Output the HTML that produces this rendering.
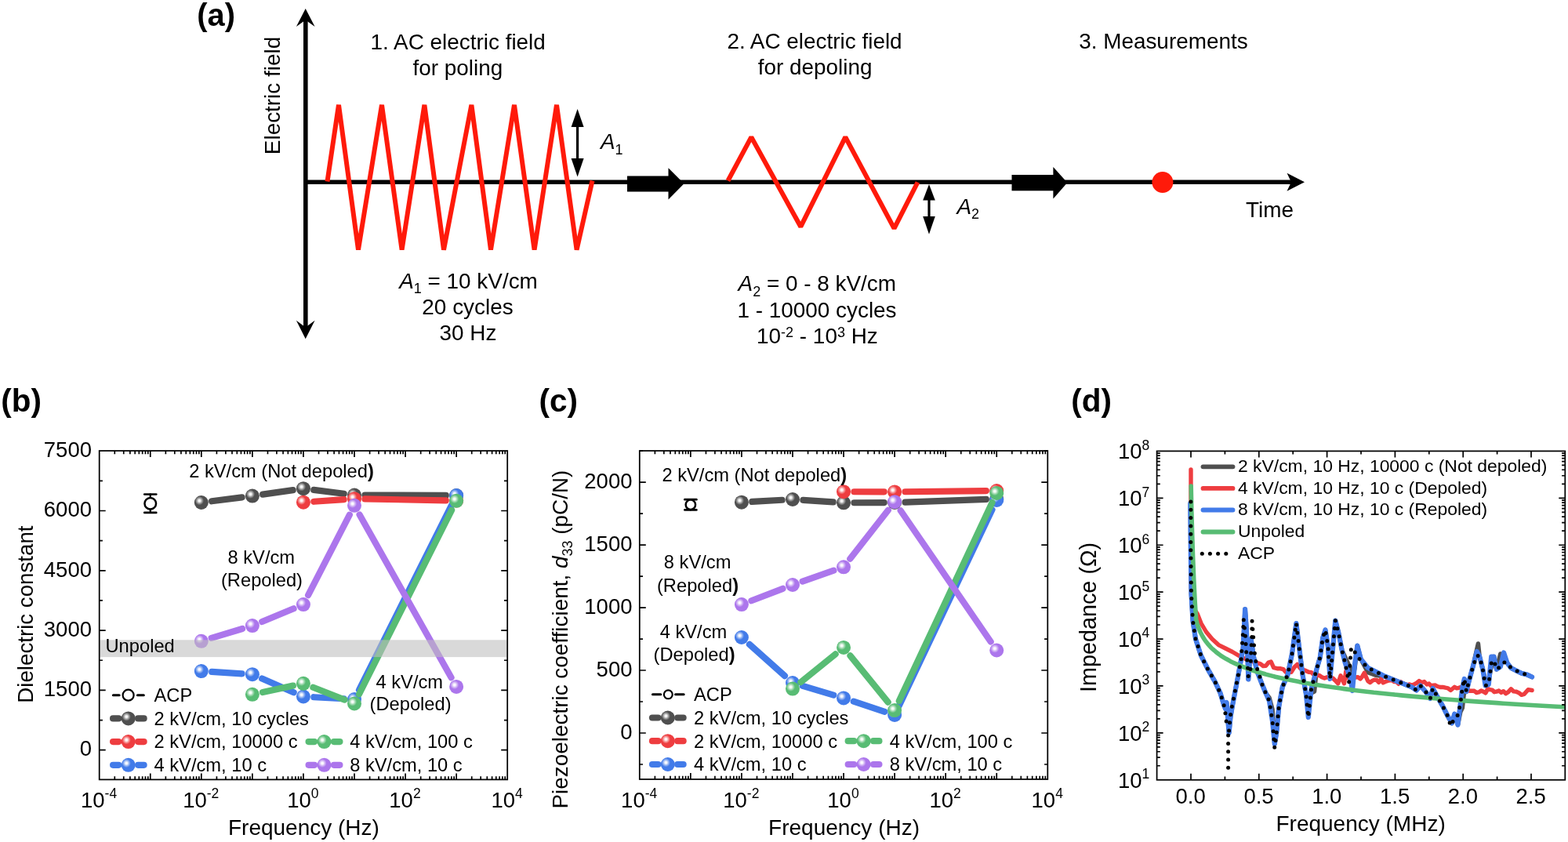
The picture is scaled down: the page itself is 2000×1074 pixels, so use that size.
<!DOCTYPE html><html><head><meta charset="utf-8"><title>Figure</title>
<style>html,body{margin:0;padding:0;background:#fff;}svg{display:block;}text{font-family:'Liberation Sans', Arial, sans-serif;}</style></head><body>
<svg width="2000" height="1074" viewBox="0 0 2000 1074">
<rect width="2000" height="1074" fill="#fff"/>
<text x="251.3" y="32.5" font-size="39.8" font-weight="bold">(a)</text>
<line x1="389.8" y1="24" x2="389.8" y2="420" stroke="#000" stroke-width="5.6" stroke-linecap="butt"/>
<polygon points="389.7,10.9 401.6,34 389.7,25.5 377.9,34" fill="#000"/>
<polygon points="389.7,432.2 401.6,408.8 389.7,417.5 377.9,408.8" fill="#000"/>
<line x1="387" y1="232.3" x2="1652" y2="232.3" stroke="#000" stroke-width="5.4" stroke-linecap="butt"/>
<polygon points="1664,232.3 1641.5,220.8 1647,232.3 1641.5,243.8" fill="#000"/>
<polyline points="417.5,231.5 432,133.8 457,318.6 487,133.8 512.6,318.6 541.4,133.8 566,318.6 601.4,133.8 626,318.6 656,133.8 681.6,318.6 710,133.8 735.6,318.6 755.5,230.5" fill="none" stroke="#ff1a0a" stroke-width="6" stroke-linejoin="bevel" stroke-linecap="butt"/>
<polyline points="928.5,230.5 958.3,174.9 1021.3,289.2 1078.3,174.9 1140.5,291.3 1170.5,232.5" fill="none" stroke="#ff1a0a" stroke-width="6" stroke-linejoin="bevel" stroke-linecap="butt"/>
<line x1="736.6" y1="158" x2="736.6" y2="206" stroke="#000" stroke-width="3.2" stroke-linecap="butt"/>
<polygon points="736.6,139 744.6,162 728.6,162" fill="#000"/>
<polygon points="736.6,225.6 744.6,202 728.6,202" fill="#000"/>
<line x1="1185" y1="252" x2="1185" y2="280" stroke="#000" stroke-width="3.2" stroke-linecap="butt"/>
<polygon points="1185,235 1192.8,255.5 1177.2,255.5" fill="#000"/>
<polygon points="1185,298.8 1192.8,276 1177.2,276" fill="#000"/>
<rect x="800" y="224.5" width="53" height="20" fill="#000"/>
<polygon points="852.5,214.3 872.5,234.3 852.5,254.5" fill="#000"/>
<rect x="1290.5" y="223" width="53.5" height="20.3" fill="#000"/>
<polygon points="1343.4,212.9 1361.4,233 1343.4,253.4" fill="#000"/>
<circle cx="1482.9" cy="232.5" r="13.5" fill="#ff1a0a"/>
<text x="584.2" y="62.5" font-size="27.9" text-anchor="middle">1. AC electric field</text>
<text x="583.8" y="95.6" font-size="27.9" text-anchor="middle">for poling</text>
<text x="1039" y="62.3" font-size="27.9" text-anchor="middle">2. AC electric field</text>
<text x="1039.6" y="95.4" font-size="27.9" text-anchor="middle">for depoling</text>
<text x="1483.9" y="62.4" font-size="27.9" text-anchor="middle">3. Measurements</text>
<text x="1619.6" y="276.6" font-size="27.9" text-anchor="middle">Time</text>
<text transform="translate(357,122) rotate(-90)" text-anchor="middle" font-size="27.9">Electric field</text>
<text x="766" y="190.4" font-size="27.9"><tspan font-style="italic">A</tspan><tspan font-size="18" dy="6.2">1</tspan></text>
<text x="1220.5" y="272.5" font-size="27.9"><tspan font-style="italic">A</tspan><tspan font-size="18" dy="6.2">2</tspan></text>
<text x="597.5" y="367.7" font-size="27.9" text-anchor="middle"><tspan font-style="italic">A</tspan><tspan font-size="18" dy="6.2">1</tspan><tspan dy="-6.2"> = 10 kV/cm</tspan></text>
<text x="596.5" y="400.9" font-size="27.9" text-anchor="middle">20 cycles</text>
<text x="597" y="434.1" font-size="27.9" text-anchor="middle">30 Hz</text>
<text x="1042.3" y="371.4" font-size="27.9" text-anchor="middle"><tspan font-style="italic">A</tspan><tspan font-size="18" dy="6.8">2</tspan><tspan dy="-6.8"> = 0 - 8 kV/cm</tspan></text>
<text x="1042" y="404.6" font-size="27.9" text-anchor="middle">1 - 10000 cycles</text>
<text x="1042.4" y="438" font-size="27.9" text-anchor="middle">10<tspan font-size="18" dy="-8.2">-2</tspan><tspan dy="8.2"> - 10</tspan><tspan font-size="18" dy="-8.2">3</tspan><tspan dy="8.2"> Hz</tspan></text>
<defs><radialGradient id="hl" cx="0.5" cy="0.5" r="0.5"><stop offset="0" stop-color="#fff" stop-opacity="1"/><stop offset="0.25" stop-color="#fff" stop-opacity="0.92"/><stop offset="0.6" stop-color="#fff" stop-opacity="0.45"/><stop offset="1" stop-color="#fff" stop-opacity="0"/></radialGradient></defs>
<line x1="270.11" y1="639.28" x2="308.6" y2="634.32" stroke="#4f4f4f" stroke-width="8.2" stroke-linecap="round"/>
<line x1="335.15" y1="630.68" x2="373.69" y2="625.12" stroke="#4f4f4f" stroke-width="8.2" stroke-linecap="round"/>
<line x1="400.24" y1="624.9" x2="438.72" y2="629.8" stroke="#4f4f4f" stroke-width="8.2" stroke-linecap="round"/>
<line x1="465.41" y1="631.55" x2="568.74" y2="631.95" stroke="#4f4f4f" stroke-width="8.2" stroke-linecap="round"/>
<circle cx="256.82" cy="641" r="9" fill="#4f4f4f"/>
<circle cx="254.42" cy="638.7" r="5.6" fill="url(#hl)"/>
<circle cx="321.89" cy="632.6" r="9" fill="#4f4f4f"/>
<circle cx="319.49" cy="630.3" r="5.6" fill="url(#hl)"/>
<circle cx="386.95" cy="623.2" r="9" fill="#4f4f4f"/>
<circle cx="384.55" cy="620.9" r="5.6" fill="url(#hl)"/>
<circle cx="452.01" cy="631.5" r="9" fill="#4f4f4f"/>
<circle cx="449.61" cy="629.2" r="5.6" fill="url(#hl)"/>
<circle cx="582.14" cy="632" r="9" fill="#4f4f4f"/>
<circle cx="579.74" cy="629.7" r="5.6" fill="url(#hl)"/>
<line x1="400.32" y1="639.78" x2="438.64" y2="637.12" stroke="#ee3d40" stroke-width="8.2" stroke-linecap="round"/>
<line x1="465.41" y1="636.45" x2="568.74" y2="638.35" stroke="#ee3d40" stroke-width="8.2" stroke-linecap="round"/>
<circle cx="386.95" cy="640.7" r="9" fill="#ee3d40"/>
<circle cx="384.55" cy="638.4" r="5.6" fill="url(#hl)"/>
<circle cx="452.01" cy="636.2" r="9" fill="#ee3d40"/>
<circle cx="449.61" cy="633.9" r="5.6" fill="url(#hl)"/>
<circle cx="582.14" cy="638.6" r="9" fill="#ee3d40"/>
<circle cx="579.74" cy="636.3" r="5.6" fill="url(#hl)"/>
<line x1="270.2" y1="856.94" x2="308.51" y2="859.36" stroke="#427be9" stroke-width="8.2" stroke-linecap="round"/>
<line x1="334.18" y1="865.54" x2="374.66" y2="883.16" stroke="#427be9" stroke-width="8.2" stroke-linecap="round"/>
<line x1="400.33" y1="889.22" x2="438.63" y2="891.28" stroke="#427be9" stroke-width="8.2" stroke-linecap="round"/>
<line x1="458.01" y1="880.02" x2="576.14" y2="643.98" stroke="#427be9" stroke-width="8.2" stroke-linecap="round"/>
<circle cx="256.82" cy="856.1" r="9" fill="#427be9"/>
<circle cx="254.42" cy="853.8" r="5.6" fill="url(#hl)"/>
<circle cx="321.89" cy="860.2" r="9" fill="#427be9"/>
<circle cx="319.49" cy="857.9" r="5.6" fill="url(#hl)"/>
<circle cx="386.95" cy="888.5" r="9" fill="#427be9"/>
<circle cx="384.55" cy="886.2" r="5.6" fill="url(#hl)"/>
<circle cx="452.01" cy="892" r="9" fill="#427be9"/>
<circle cx="449.61" cy="889.7" r="5.6" fill="url(#hl)"/>
<circle cx="582.14" cy="632" r="9" fill="#427be9"/>
<circle cx="579.74" cy="629.7" r="5.6" fill="url(#hl)"/>
<line x1="334.99" y1="882.98" x2="373.85" y2="874.62" stroke="#58bc74" stroke-width="8.2" stroke-linecap="round"/>
<line x1="399.41" y1="876.72" x2="439.55" y2="892.58" stroke="#58bc74" stroke-width="8.2" stroke-linecap="round"/>
<line x1="458.03" y1="885.53" x2="576.12" y2="650.77" stroke="#58bc74" stroke-width="8.2" stroke-linecap="round"/>
<circle cx="321.89" cy="885.8" r="9" fill="#58bc74"/>
<circle cx="319.49" cy="883.5" r="5.6" fill="url(#hl)"/>
<circle cx="386.95" cy="871.8" r="9" fill="#58bc74"/>
<circle cx="384.55" cy="869.5" r="5.6" fill="url(#hl)"/>
<circle cx="452.01" cy="897.5" r="9" fill="#58bc74"/>
<circle cx="449.61" cy="895.2" r="5.6" fill="url(#hl)"/>
<circle cx="582.14" cy="638.8" r="9" fill="#58bc74"/>
<circle cx="579.74" cy="636.5" r="5.6" fill="url(#hl)"/>
<line x1="269.65" y1="813.92" x2="309.06" y2="801.98" stroke="#ac76ec" stroke-width="8.2" stroke-linecap="round"/>
<line x1="334.26" y1="792.96" x2="374.57" y2="776.24" stroke="#ac76ec" stroke-width="8.2" stroke-linecap="round"/>
<line x1="393.09" y1="759.19" x2="445.88" y2="656.71" stroke="#ac76ec" stroke-width="8.2" stroke-linecap="round"/>
<line x1="458.59" y1="656.48" x2="575.56" y2="864.22" stroke="#ac76ec" stroke-width="8.2" stroke-linecap="round"/>
<circle cx="256.82" cy="817.8" r="9" fill="#ac76ec"/>
<circle cx="254.42" cy="815.5" r="5.6" fill="url(#hl)"/>
<circle cx="321.89" cy="798.1" r="9" fill="#ac76ec"/>
<circle cx="319.49" cy="795.8" r="5.6" fill="url(#hl)"/>
<circle cx="386.95" cy="771.1" r="9" fill="#ac76ec"/>
<circle cx="384.55" cy="768.8" r="5.6" fill="url(#hl)"/>
<circle cx="452.01" cy="644.8" r="9" fill="#ac76ec"/>
<circle cx="449.61" cy="642.5" r="5.6" fill="url(#hl)"/>
<circle cx="582.14" cy="875.9" r="9" fill="#ac76ec"/>
<circle cx="579.74" cy="873.6" r="5.6" fill="url(#hl)"/>
<rect x="127.7" y="816.3" width="518.5" height="21.8" fill="#bfbfbf" fill-opacity="0.59"/>
<g stroke="#000" stroke-width="2.3" fill="none" stroke-linecap="round"><line x1="191.76" y1="630.5" x2="191.76" y2="653.9"/><line x1="184.26" y1="630.5" x2="199.26" y2="630.5" stroke-width="2.7"/><line x1="184.26" y1="653.9" x2="199.26" y2="653.9" stroke-width="2.7"/><circle cx="191.76" cy="642.2" r="7.3" fill="#fff" stroke-width="2.5"/></g>
<path d="M146.29 575L146.29 579.2M146.29 994.4L146.29 990.2M157.74 575L157.74 579.2M157.74 994.4L157.74 990.2M165.87 575L165.87 579.2M165.87 994.4L165.87 990.2M172.18 575L172.18 579.2M172.18 994.4L172.18 990.2M177.33 575L177.33 579.2M177.33 994.4L177.33 990.2M181.68 575L181.68 579.2M181.68 994.4L181.68 990.2M185.46 575L185.46 579.2M185.46 994.4L185.46 990.2M188.79 575L188.79 579.2M188.79 994.4L188.79 990.2M191.76 575L191.76 583M191.76 994.4L191.76 986.4M211.35 575L211.35 579.2M211.35 994.4L211.35 990.2M222.81 575L222.81 579.2M222.81 994.4L222.81 990.2M230.93 575L230.93 579.2M230.93 994.4L230.93 990.2M237.24 575L237.24 579.2M237.24 994.4L237.24 990.2M242.39 575L242.39 579.2M242.39 994.4L242.39 990.2M246.75 575L246.75 579.2M246.75 994.4L246.75 990.2M250.52 575L250.52 579.2M250.52 994.4L250.52 990.2M253.85 575L253.85 579.2M253.85 994.4L253.85 990.2M256.82 575L256.82 583M256.82 994.4L256.82 986.4M276.41 575L276.41 579.2M276.41 994.4L276.41 990.2M287.87 575L287.87 579.2M287.87 994.4L287.87 990.2M296 575L296 579.2M296 994.4L296 990.2M302.3 575L302.3 579.2M302.3 994.4L302.3 990.2M307.45 575L307.45 579.2M307.45 994.4L307.45 990.2M311.81 575L311.81 579.2M311.81 994.4L311.81 990.2M315.58 575L315.58 579.2M315.58 994.4L315.58 990.2M318.91 575L318.91 579.2M318.91 994.4L318.91 990.2M321.89 575L321.89 583M321.89 994.4L321.89 986.4M341.47 575L341.47 579.2M341.47 994.4L341.47 990.2M352.93 575L352.93 579.2M352.93 994.4L352.93 990.2M361.06 575L361.06 579.2M361.06 994.4L361.06 990.2M367.36 575L367.36 579.2M367.36 994.4L367.36 990.2M372.52 575L372.52 579.2M372.52 994.4L372.52 990.2M376.87 575L376.87 579.2M376.87 994.4L376.87 990.2M380.64 575L380.64 579.2M380.64 994.4L380.64 990.2M383.97 575L383.97 579.2M383.97 994.4L383.97 990.2M386.95 575L386.95 583M386.95 994.4L386.95 986.4M406.54 575L406.54 579.2M406.54 994.4L406.54 990.2M417.99 575L417.99 579.2M417.99 994.4L417.99 990.2M426.12 575L426.12 579.2M426.12 994.4L426.12 990.2M432.43 575L432.43 579.2M432.43 994.4L432.43 990.2M437.58 575L437.58 579.2M437.58 994.4L437.58 990.2M441.93 575L441.93 579.2M441.93 994.4L441.93 990.2M445.71 575L445.71 579.2M445.71 994.4L445.71 990.2M449.04 575L449.04 579.2M449.04 994.4L449.04 990.2M452.01 575L452.01 583M452.01 994.4L452.01 986.4M471.6 575L471.6 579.2M471.6 994.4L471.6 990.2M483.06 575L483.06 579.2M483.06 994.4L483.06 990.2M491.18 575L491.18 579.2M491.18 994.4L491.18 990.2M497.49 575L497.49 579.2M497.49 994.4L497.49 990.2M502.64 575L502.64 579.2M502.64 994.4L502.64 990.2M507 575L507 579.2M507 994.4L507 990.2M510.77 575L510.77 579.2M510.77 994.4L510.77 990.2M514.1 575L514.1 579.2M514.1 994.4L514.1 990.2M517.08 575L517.08 583M517.08 994.4L517.08 986.4M536.66 575L536.66 579.2M536.66 994.4L536.66 990.2M548.12 575L548.12 579.2M548.12 994.4L548.12 990.2M556.25 575L556.25 579.2M556.25 994.4L556.25 990.2M562.55 575L562.55 579.2M562.55 994.4L562.55 990.2M567.7 575L567.7 579.2M567.7 994.4L567.7 990.2M572.06 575L572.06 579.2M572.06 994.4L572.06 990.2M575.83 575L575.83 579.2M575.83 994.4L575.83 990.2M579.16 575L579.16 579.2M579.16 994.4L579.16 990.2M582.14 575L582.14 583M582.14 994.4L582.14 986.4M601.72 575L601.72 579.2M601.72 994.4L601.72 990.2M613.18 575L613.18 579.2M613.18 994.4L613.18 990.2M621.31 575L621.31 579.2M621.31 994.4L621.31 990.2M627.61 575L627.61 579.2M627.61 994.4L627.61 990.2M632.77 575L632.77 579.2M632.77 994.4L632.77 990.2M637.12 575L637.12 579.2M637.12 994.4L637.12 990.2M640.89 575L640.89 579.2M640.89 994.4L640.89 990.2M644.22 575L644.22 579.2M644.22 994.4L644.22 990.2M126.7 956.7L134.7 956.7M647.2 956.7L639.2 956.7M126.7 880.4L134.7 880.4M647.2 880.4L639.2 880.4M126.7 804.1L134.7 804.1M647.2 804.1L639.2 804.1M126.7 727.8L134.7 727.8M647.2 727.8L639.2 727.8M126.7 651.5L134.7 651.5M647.2 651.5L639.2 651.5M126.7 918.55L130.9 918.55M647.2 918.55L643 918.55M126.7 842.25L130.9 842.25M647.2 842.25L643 842.25M126.7 765.95L130.9 765.95M647.2 765.95L643 765.95M126.7 689.65L130.9 689.65M647.2 689.65L643 689.65M126.7 613.35L130.9 613.35M647.2 613.35L643 613.35" stroke="#000" stroke-width="1.7" fill="none"/>
<rect x="126.7" y="575" width="520.5" height="419.4" fill="none" stroke="#000" stroke-width="1.75"/>
<text x="117" y="964.4" font-size="27.5" text-anchor="end">0</text>
<text x="117" y="888.1" font-size="27.5" text-anchor="end">1500</text>
<text x="117" y="811.8" font-size="27.5" text-anchor="end">3000</text>
<text x="117" y="735.5" font-size="27.5" text-anchor="end">4500</text>
<text x="117" y="659.2" font-size="27.5" text-anchor="end">6000</text>
<text x="117" y="582.9" font-size="27.5" text-anchor="end">7500</text>
<text x="126.1" y="1029.6" font-size="27.5" text-anchor="middle">10<tspan font-size="17.5" dy="-12">-4</tspan></text>
<text x="256.22" y="1029.6" font-size="27.5" text-anchor="middle">10<tspan font-size="17.5" dy="-12">-2</tspan></text>
<text x="386.35" y="1029.6" font-size="27.5" text-anchor="middle">10<tspan font-size="17.5" dy="-12">0</tspan></text>
<text x="516.48" y="1029.6" font-size="27.5" text-anchor="middle">10<tspan font-size="17.5" dy="-12">2</tspan></text>
<text x="646.6" y="1029.6" font-size="27.5" text-anchor="middle">10<tspan font-size="17.5" dy="-12">4</tspan></text>
<text x="387.45" y="1065.1" font-size="28" text-anchor="middle">Frequency (Hz)</text>
<text transform="translate(42.4,783.6) rotate(-90)" text-anchor="middle" font-size="27.7">Dielectric constant</text>
<text x="359" y="608.6" font-size="23.7" text-anchor="middle">2 kV/cm (Not depoled<tspan font-weight="bold">)</tspan></text>
<text x="333.3" y="719.3" font-size="23.7" text-anchor="middle">8 kV/cm</text>
<text x="334" y="748.2" font-size="23.7" text-anchor="middle">(Repoled)</text>
<text x="134.5" y="831.9" font-size="23.7">Unpoled</text>
<text x="522.3" y="877.7" font-size="23.7" text-anchor="middle">4 kV/cm</text>
<text x="523.6" y="905.5" font-size="23.7" text-anchor="middle">(Depoled)</text>
<g stroke="#000" stroke-width="3.1" stroke-linecap="round"><line x1="144.4" y1="886.7" x2="152.1" y2="886.7"/><line x1="175.4" y1="886.7" x2="183.3" y2="886.7"/></g>
<circle cx="163.6" cy="886.7" r="7" fill="#fff" stroke="#000" stroke-width="2.2"/>
<text x="196.5" y="895" font-size="23.7">ACP</text>
<line x1="144.1" y1="916.4" x2="151.3" y2="916.4" stroke="#4f4f4f" stroke-width="8.2" stroke-linecap="round"/>
<line x1="176.1" y1="916.4" x2="183.6" y2="916.4" stroke="#4f4f4f" stroke-width="8.2" stroke-linecap="round"/>
<circle cx="163.7" cy="916.4" r="9" fill="#4f4f4f"/>
<circle cx="161.3" cy="914.1" r="5.6" fill="url(#hl)"/>
<text x="196.5" y="924.7" font-size="23.7">2 kV/cm, 10 cycles</text>
<line x1="144.1" y1="946.1" x2="151.3" y2="946.1" stroke="#ee3d40" stroke-width="8.2" stroke-linecap="round"/>
<line x1="176.1" y1="946.1" x2="183.6" y2="946.1" stroke="#ee3d40" stroke-width="8.2" stroke-linecap="round"/>
<circle cx="163.7" cy="946.1" r="9" fill="#ee3d40"/>
<circle cx="161.3" cy="943.8" r="5.6" fill="url(#hl)"/>
<text x="196.5" y="954.4" font-size="23.7">2 kV/cm, 10000 c</text>
<line x1="144.1" y1="975.8" x2="151.3" y2="975.8" stroke="#427be9" stroke-width="8.2" stroke-linecap="round"/>
<line x1="176.1" y1="975.8" x2="183.6" y2="975.8" stroke="#427be9" stroke-width="8.2" stroke-linecap="round"/>
<circle cx="163.7" cy="975.8" r="9" fill="#427be9"/>
<circle cx="161.3" cy="973.5" r="5.6" fill="url(#hl)"/>
<text x="196.5" y="984.1" font-size="23.7">4 kV/cm, 10 c</text>
<line x1="393.6" y1="946.1" x2="401.1" y2="946.1" stroke="#58bc74" stroke-width="8.2" stroke-linecap="round"/>
<line x1="425.9" y1="946.1" x2="433.4" y2="946.1" stroke="#58bc74" stroke-width="8.2" stroke-linecap="round"/>
<circle cx="413.5" cy="946.1" r="9" fill="#58bc74"/>
<circle cx="411.1" cy="943.8" r="5.6" fill="url(#hl)"/>
<text x="446.2" y="954.4" font-size="23.7">4 kV/cm, 100 c</text>
<line x1="393.6" y1="975.8" x2="401.1" y2="975.8" stroke="#ac76ec" stroke-width="8.2" stroke-linecap="round"/>
<line x1="425.9" y1="975.8" x2="433.4" y2="975.8" stroke="#ac76ec" stroke-width="8.2" stroke-linecap="round"/>
<circle cx="413.5" cy="975.8" r="9" fill="#ac76ec"/>
<circle cx="411.1" cy="973.5" r="5.6" fill="url(#hl)"/>
<text x="446.2" y="984.1" font-size="23.7">8 kV/cm, 10 c</text>
<text x="1.2" y="524.6" font-size="40.5" font-weight="bold">(b)</text>
<line x1="959.3" y1="639.94" x2="997.61" y2="637.76" stroke="#4f4f4f" stroke-width="8.2" stroke-linecap="round"/>
<line x1="1024.36" y1="637.88" x2="1062.68" y2="640.42" stroke="#4f4f4f" stroke-width="8.2" stroke-linecap="round"/>
<line x1="1089.45" y1="641.24" x2="1127.71" y2="641.06" stroke="#4f4f4f" stroke-width="8.2" stroke-linecap="round"/>
<line x1="1154.5" y1="640.54" x2="1257.85" y2="636.96" stroke="#4f4f4f" stroke-width="8.2" stroke-linecap="round"/>
<circle cx="945.92" cy="640.7" r="9" fill="#4f4f4f"/>
<circle cx="943.52" cy="638.4" r="5.6" fill="url(#hl)"/>
<circle cx="1010.99" cy="637" r="9" fill="#4f4f4f"/>
<circle cx="1008.59" cy="634.7" r="5.6" fill="url(#hl)"/>
<circle cx="1076.05" cy="641.3" r="9" fill="#4f4f4f"/>
<circle cx="1073.65" cy="639" r="5.6" fill="url(#hl)"/>
<circle cx="1141.11" cy="641" r="9" fill="#4f4f4f"/>
<circle cx="1138.71" cy="638.7" r="5.6" fill="url(#hl)"/>
<circle cx="1271.24" cy="636.5" r="9" fill="#4f4f4f"/>
<circle cx="1268.84" cy="634.2" r="5.6" fill="url(#hl)"/>
<line x1="1089.45" y1="627.24" x2="1127.71" y2="627.36" stroke="#ee3d40" stroke-width="8.2" stroke-linecap="round"/>
<line x1="1154.51" y1="627.26" x2="1257.84" y2="626.14" stroke="#ee3d40" stroke-width="8.2" stroke-linecap="round"/>
<circle cx="1076.05" cy="627.2" r="9" fill="#ee3d40"/>
<circle cx="1073.65" cy="624.9" r="5.6" fill="url(#hl)"/>
<circle cx="1141.11" cy="627.4" r="9" fill="#ee3d40"/>
<circle cx="1138.71" cy="625.1" r="5.6" fill="url(#hl)"/>
<circle cx="1271.24" cy="626" r="9" fill="#ee3d40"/>
<circle cx="1268.84" cy="623.7" r="5.6" fill="url(#hl)"/>
<line x1="955.93" y1="821.92" x2="1000.98" y2="862.08" stroke="#427be9" stroke-width="8.2" stroke-linecap="round"/>
<line x1="1023.83" y1="874.83" x2="1063.21" y2="886.57" stroke="#427be9" stroke-width="8.2" stroke-linecap="round"/>
<line x1="1088.77" y1="894.62" x2="1128.4" y2="907.78" stroke="#427be9" stroke-width="8.2" stroke-linecap="round"/>
<line x1="1146.86" y1="899.9" x2="1265.49" y2="650.1" stroke="#427be9" stroke-width="8.2" stroke-linecap="round"/>
<circle cx="945.92" cy="813" r="9" fill="#427be9"/>
<circle cx="943.52" cy="810.7" r="5.6" fill="url(#hl)"/>
<circle cx="1010.99" cy="871" r="9" fill="#427be9"/>
<circle cx="1008.59" cy="868.7" r="5.6" fill="url(#hl)"/>
<circle cx="1076.05" cy="890.4" r="9" fill="#427be9"/>
<circle cx="1073.65" cy="888.1" r="5.6" fill="url(#hl)"/>
<circle cx="1141.11" cy="912" r="9" fill="#427be9"/>
<circle cx="1138.71" cy="909.7" r="5.6" fill="url(#hl)"/>
<circle cx="1271.24" cy="638" r="9" fill="#427be9"/>
<circle cx="1268.84" cy="635.7" r="5.6" fill="url(#hl)"/>
<line x1="1021.4" y1="870.17" x2="1065.64" y2="834.33" stroke="#58bc74" stroke-width="8.2" stroke-linecap="round"/>
<line x1="1084.49" y1="836.31" x2="1132.67" y2="895.69" stroke="#58bc74" stroke-width="8.2" stroke-linecap="round"/>
<line x1="1146.81" y1="893.97" x2="1265.54" y2="641.03" stroke="#58bc74" stroke-width="8.2" stroke-linecap="round"/>
<circle cx="1010.99" cy="878.6" r="9" fill="#58bc74"/>
<circle cx="1008.59" cy="876.3" r="5.6" fill="url(#hl)"/>
<circle cx="1076.05" cy="825.9" r="9" fill="#58bc74"/>
<circle cx="1073.65" cy="823.6" r="5.6" fill="url(#hl)"/>
<circle cx="1141.11" cy="906.1" r="9" fill="#58bc74"/>
<circle cx="1138.71" cy="903.8" r="5.6" fill="url(#hl)"/>
<circle cx="1271.24" cy="628.9" r="9" fill="#58bc74"/>
<circle cx="1268.84" cy="626.6" r="5.6" fill="url(#hl)"/>
<line x1="958.43" y1="766.28" x2="998.49" y2="750.82" stroke="#ac76ec" stroke-width="8.2" stroke-linecap="round"/>
<line x1="1023.64" y1="741.59" x2="1063.4" y2="727.71" stroke="#ac76ec" stroke-width="8.2" stroke-linecap="round"/>
<line x1="1084.31" y1="712.75" x2="1132.85" y2="650.75" stroke="#ac76ec" stroke-width="8.2" stroke-linecap="round"/>
<line x1="1148.7" y1="651.24" x2="1263.65" y2="818.46" stroke="#ac76ec" stroke-width="8.2" stroke-linecap="round"/>
<circle cx="945.92" cy="771.1" r="9" fill="#ac76ec"/>
<circle cx="943.52" cy="768.8" r="5.6" fill="url(#hl)"/>
<circle cx="1010.99" cy="746" r="9" fill="#ac76ec"/>
<circle cx="1008.59" cy="743.7" r="5.6" fill="url(#hl)"/>
<circle cx="1076.05" cy="723.3" r="9" fill="#ac76ec"/>
<circle cx="1073.65" cy="721" r="5.6" fill="url(#hl)"/>
<circle cx="1141.11" cy="640.2" r="9" fill="#ac76ec"/>
<circle cx="1138.71" cy="637.9" r="5.6" fill="url(#hl)"/>
<circle cx="1271.24" cy="829.5" r="9" fill="#ac76ec"/>
<circle cx="1268.84" cy="827.2" r="5.6" fill="url(#hl)"/>
<g stroke="#000" stroke-width="2.3" fill="none" stroke-linecap="round"><line x1="880.86" y1="637.2" x2="880.86" y2="650.4"/><line x1="873.36" y1="637.2" x2="888.36" y2="637.2" stroke-width="2.7"/><line x1="873.36" y1="650.4" x2="888.36" y2="650.4" stroke-width="2.7"/><circle cx="880.86" cy="643.8" r="6.2" fill="#fff" stroke-width="2.5"/></g>
<path d="M835.39 575L835.39 579.2M835.39 994L835.39 989.8M846.84 575L846.84 579.2M846.84 994L846.84 989.8M854.97 575L854.97 579.2M854.97 994L854.97 989.8M861.28 575L861.28 579.2M861.28 994L861.28 989.8M866.43 575L866.43 579.2M866.43 994L866.43 989.8M870.78 575L870.78 579.2M870.78 994L870.78 989.8M874.56 575L874.56 579.2M874.56 994L874.56 989.8M877.89 575L877.89 579.2M877.89 994L877.89 989.8M880.86 575L880.86 583M880.86 994L880.86 986M900.45 575L900.45 579.2M900.45 994L900.45 989.8M911.91 575L911.91 579.2M911.91 994L911.91 989.8M920.03 575L920.03 579.2M920.03 994L920.03 989.8M926.34 575L926.34 579.2M926.34 994L926.34 989.8M931.49 575L931.49 579.2M931.49 994L931.49 989.8M935.85 575L935.85 579.2M935.85 994L935.85 989.8M939.62 575L939.62 579.2M939.62 994L939.62 989.8M942.95 575L942.95 579.2M942.95 994L942.95 989.8M945.92 575L945.92 583M945.92 994L945.92 986M965.51 575L965.51 579.2M965.51 994L965.51 989.8M976.97 575L976.97 579.2M976.97 994L976.97 989.8M985.1 575L985.1 579.2M985.1 994L985.1 989.8M991.4 575L991.4 579.2M991.4 994L991.4 989.8M996.55 575L996.55 579.2M996.55 994L996.55 989.8M1000.91 575L1000.91 579.2M1000.91 994L1000.91 989.8M1004.68 575L1004.68 579.2M1004.68 994L1004.68 989.8M1008.01 575L1008.01 579.2M1008.01 994L1008.01 989.8M1010.99 575L1010.99 583M1010.99 994L1010.99 986M1030.57 575L1030.57 579.2M1030.57 994L1030.57 989.8M1042.03 575L1042.03 579.2M1042.03 994L1042.03 989.8M1050.16 575L1050.16 579.2M1050.16 994L1050.16 989.8M1056.46 575L1056.46 579.2M1056.46 994L1056.46 989.8M1061.62 575L1061.62 579.2M1061.62 994L1061.62 989.8M1065.97 575L1065.97 579.2M1065.97 994L1065.97 989.8M1069.74 575L1069.74 579.2M1069.74 994L1069.74 989.8M1073.07 575L1073.07 579.2M1073.07 994L1073.07 989.8M1076.05 575L1076.05 583M1076.05 994L1076.05 986M1095.64 575L1095.64 579.2M1095.64 994L1095.64 989.8M1107.09 575L1107.09 579.2M1107.09 994L1107.09 989.8M1115.22 575L1115.22 579.2M1115.22 994L1115.22 989.8M1121.53 575L1121.53 579.2M1121.53 994L1121.53 989.8M1126.68 575L1126.68 579.2M1126.68 994L1126.68 989.8M1131.03 575L1131.03 579.2M1131.03 994L1131.03 989.8M1134.81 575L1134.81 579.2M1134.81 994L1134.81 989.8M1138.14 575L1138.14 579.2M1138.14 994L1138.14 989.8M1141.11 575L1141.11 583M1141.11 994L1141.11 986M1160.7 575L1160.7 579.2M1160.7 994L1160.7 989.8M1172.16 575L1172.16 579.2M1172.16 994L1172.16 989.8M1180.28 575L1180.28 579.2M1180.28 994L1180.28 989.8M1186.59 575L1186.59 579.2M1186.59 994L1186.59 989.8M1191.74 575L1191.74 579.2M1191.74 994L1191.74 989.8M1196.1 575L1196.1 579.2M1196.1 994L1196.1 989.8M1199.87 575L1199.87 579.2M1199.87 994L1199.87 989.8M1203.2 575L1203.2 579.2M1203.2 994L1203.2 989.8M1206.17 575L1206.17 583M1206.17 994L1206.17 986M1225.76 575L1225.76 579.2M1225.76 994L1225.76 989.8M1237.22 575L1237.22 579.2M1237.22 994L1237.22 989.8M1245.35 575L1245.35 579.2M1245.35 994L1245.35 989.8M1251.65 575L1251.65 579.2M1251.65 994L1251.65 989.8M1256.8 575L1256.8 579.2M1256.8 994L1256.8 989.8M1261.16 575L1261.16 579.2M1261.16 994L1261.16 989.8M1264.93 575L1264.93 579.2M1264.93 994L1264.93 989.8M1268.26 575L1268.26 579.2M1268.26 994L1268.26 989.8M1271.24 575L1271.24 583M1271.24 994L1271.24 986M1290.82 575L1290.82 579.2M1290.82 994L1290.82 989.8M1302.28 575L1302.28 579.2M1302.28 994L1302.28 989.8M1310.41 575L1310.41 579.2M1310.41 994L1310.41 989.8M1316.71 575L1316.71 579.2M1316.71 994L1316.71 989.8M1321.87 575L1321.87 579.2M1321.87 994L1321.87 989.8M1326.22 575L1326.22 579.2M1326.22 994L1326.22 989.8M1329.99 575L1329.99 579.2M1329.99 994L1329.99 989.8M1333.32 575L1333.32 579.2M1333.32 994L1333.32 989.8M815.8 935L823.8 935M1336.3 935L1328.3 935M815.8 855.02L823.8 855.02M1336.3 855.02L1328.3 855.02M815.8 775.05L823.8 775.05M1336.3 775.05L1328.3 775.05M815.8 695.08L823.8 695.08M1336.3 695.08L1328.3 695.08M815.8 615.1L823.8 615.1M1336.3 615.1L1328.3 615.1M815.8 974.99L820 974.99M1336.3 974.99L1332.1 974.99M815.8 895.01L820 895.01M1336.3 895.01L1332.1 895.01M815.8 815.04L820 815.04M1336.3 815.04L1332.1 815.04M815.8 735.06L820 735.06M1336.3 735.06L1332.1 735.06M815.8 655.09L820 655.09M1336.3 655.09L1332.1 655.09M815.8 575.11L820 575.11M1336.3 575.11L1332.1 575.11" stroke="#000" stroke-width="1.7" fill="none"/>
<rect x="815.8" y="575" width="520.5" height="419" fill="none" stroke="#000" stroke-width="1.75"/>
<text x="806.5" y="942.9" font-size="27.5" text-anchor="end">0</text>
<text x="806.5" y="862.92" font-size="27.5" text-anchor="end">500</text>
<text x="806.5" y="782.95" font-size="27.5" text-anchor="end">1000</text>
<text x="806.5" y="702.98" font-size="27.5" text-anchor="end">1500</text>
<text x="806.5" y="623" font-size="27.5" text-anchor="end">2000</text>
<text x="815.2" y="1029.6" font-size="27.5" text-anchor="middle">10<tspan font-size="17.5" dy="-12">-4</tspan></text>
<text x="945.32" y="1029.6" font-size="27.5" text-anchor="middle">10<tspan font-size="17.5" dy="-12">-2</tspan></text>
<text x="1075.45" y="1029.6" font-size="27.5" text-anchor="middle">10<tspan font-size="17.5" dy="-12">0</tspan></text>
<text x="1205.58" y="1029.6" font-size="27.5" text-anchor="middle">10<tspan font-size="17.5" dy="-12">2</tspan></text>
<text x="1335.7" y="1029.6" font-size="27.5" text-anchor="middle">10<tspan font-size="17.5" dy="-12">4</tspan></text>
<text x="1076.55" y="1065.1" font-size="28" text-anchor="middle">Frequency (Hz)</text>
<text transform="translate(724.3,815.6) rotate(-90)" text-anchor="middle" font-size="27.9">Piezoelectric coefficient, <tspan font-style="italic">d</tspan><tspan font-size="18" dy="6">33</tspan><tspan dy="-6"> (pC/N)</tspan></text>
<text x="962.3" y="614" font-size="23.7" text-anchor="middle">2 kV/cm (Not depoled<tspan font-weight="bold">)</tspan></text>
<text x="889.6" y="725.2" font-size="23.7" text-anchor="middle">8 kV/cm</text>
<text x="890" y="754.9" font-size="23.7" text-anchor="middle">(Repoled<tspan font-weight="bold">)</tspan></text>
<text x="884.5" y="813.8" font-size="23.7" text-anchor="middle">4 kV/cm</text>
<text x="885.6" y="843.2" font-size="23.7" text-anchor="middle">(Depoled<tspan font-weight="bold">)</tspan></text>
<g stroke="#000" stroke-width="3.1" stroke-linecap="round"><line x1="832.5" y1="885.8" x2="842.7" y2="885.8"/><line x1="861.6" y1="885.8" x2="872.1" y2="885.8"/></g>
<circle cx="852.3" cy="885.8" r="5.45" fill="#fff" stroke="#000" stroke-width="2.2"/>
<text x="885" y="894.1" font-size="23.7">ACP</text>
<line x1="832" y1="915.5" x2="839.4" y2="915.5" stroke="#4f4f4f" stroke-width="8.2" stroke-linecap="round"/>
<line x1="864.2" y1="915.5" x2="871.6" y2="915.5" stroke="#4f4f4f" stroke-width="8.2" stroke-linecap="round"/>
<circle cx="851.8" cy="915.5" r="9" fill="#4f4f4f"/>
<circle cx="849.4" cy="913.2" r="5.6" fill="url(#hl)"/>
<text x="885" y="923.8" font-size="23.7">2 kV/cm, 10 cycles</text>
<line x1="832" y1="945.2" x2="839.4" y2="945.2" stroke="#ee3d40" stroke-width="8.2" stroke-linecap="round"/>
<line x1="864.2" y1="945.2" x2="871.6" y2="945.2" stroke="#ee3d40" stroke-width="8.2" stroke-linecap="round"/>
<circle cx="851.8" cy="945.2" r="9" fill="#ee3d40"/>
<circle cx="849.4" cy="942.9" r="5.6" fill="url(#hl)"/>
<text x="885" y="953.5" font-size="23.7">2 kV/cm, 10000 c</text>
<line x1="832" y1="975" x2="839.4" y2="975" stroke="#427be9" stroke-width="8.2" stroke-linecap="round"/>
<line x1="864.2" y1="975" x2="871.6" y2="975" stroke="#427be9" stroke-width="8.2" stroke-linecap="round"/>
<circle cx="851.8" cy="975" r="9" fill="#427be9"/>
<circle cx="849.4" cy="972.7" r="5.6" fill="url(#hl)"/>
<text x="885" y="983.3" font-size="23.7">4 kV/cm, 10 c</text>
<line x1="1081.7" y1="945.2" x2="1089.2" y2="945.2" stroke="#58bc74" stroke-width="8.2" stroke-linecap="round"/>
<line x1="1114" y1="945.2" x2="1121.4" y2="945.2" stroke="#58bc74" stroke-width="8.2" stroke-linecap="round"/>
<circle cx="1101.6" cy="945.2" r="9" fill="#58bc74"/>
<circle cx="1099.2" cy="942.9" r="5.6" fill="url(#hl)"/>
<text x="1134.7" y="953.5" font-size="23.7">4 kV/cm, 100 c</text>
<line x1="1081.7" y1="975" x2="1089.2" y2="975" stroke="#ac76ec" stroke-width="8.2" stroke-linecap="round"/>
<line x1="1114" y1="975" x2="1121.4" y2="975" stroke="#ac76ec" stroke-width="8.2" stroke-linecap="round"/>
<circle cx="1101.6" cy="975" r="9" fill="#ac76ec"/>
<circle cx="1099.2" cy="972.7" r="5.6" fill="url(#hl)"/>
<text x="1134.7" y="983.3" font-size="23.7">8 kV/cm, 10 c</text>
<text x="687.5" y="524.6" font-size="40.5" font-weight="bold">(c)</text>
<defs><clipPath id="clipd"><rect x="1475.6" y="575.4" width="520.7" height="419.4"/></clipPath></defs>
<g clip-path="url(#clipd)" fill="none" stroke-linejoin="round" stroke-linecap="round">
<polyline points="1518.4,642.0 1518.8,700.0 1519.5,758.0 1521.5,792.0 1525.0,815.0 1531.8,836.0 1540.8,853.9 1549.7,869.5 1556.5,884.0 1561.0,899.0 1563.0,904.0 1564.5,896.0 1566.0,915.0 1567.6,935.0 1569.5,915.0 1572.0,900.0 1578.7,865.0 1583.2,840.4 1585.6,826.5 1588.1,777.0 1589.6,798.5 1591.2,832.0 1592.3,866.5 1594.0,843.2 1595.7,815.3 1599.0,837.6 1603.5,856.6 1609.1,871.1 1614.7,884.6 1619.0,890.0 1623.0,905.0 1625.8,949.0 1628.3,934.0 1631.3,900.9 1635.8,876.3 1642.5,860.7 1648.0,833.9 1653.4,795.0 1657.0,825.0 1661.5,860.7 1665.9,885.3 1668.8,890.0 1672.6,884.0 1676.5,882.0 1679.3,854.0 1683.8,838.3 1687.2,813.7 1690.5,803.5 1693.9,824.9 1696.5,856.0 1699.4,833.9 1703.3,791.5 1707.3,807.0 1711.7,829.4 1715.6,838.0 1722.3,852.0 1725.0,866.0 1728.0,852.0 1731.3,823.5 1735.8,840.6 1744.7,857.5 1755.9,861.5 1767.0,862.9 1778.2,867.4 1789.4,871.8 1800.6,876.3 1806.7,880.5 1811.7,874.6 1818.4,882.2 1824.3,891.0 1827.6,878.0 1833.5,888.9 1840.2,900.6 1846.9,914.0 1851.9,922.4 1855.3,910.7 1859.5,924.5 1862.8,908.0 1865.3,903.0 1867.8,880.0 1870.4,882.2 1873.7,868.8 1878.7,850.4 1885.4,821.0 1887.1,837.0 1891.3,853.7 1894.6,868.0 1898.8,868.0 1902.2,850.0 1905.5,837.5 1908.9,853.7 1913.9,834.0 1918.1,836.0 1922.3,845.3 1927.3,852.0 1934.0,855.4 1940.7,858.7 1947.4,860.4 1954.1,863.5" stroke="#4f4f4f" stroke-width="5.6"/>
<polyline points="1519.0,599.0 1519.0,700.0 1519.6,755.0 1521.5,770.0 1524.0,778.0 1527.3,783.0 1532.0,795.0 1538.5,806.0 1546.0,815.0 1554.2,822.6 1563.0,827.0 1572.0,831.5 1585.4,839.3 1601.0,845.0 1604.4,845.9 1607.8,846.9 1611.2,849.5 1614.5,849.4 1618.0,845.0 1621.2,844.0 1624.6,851.7 1629.0,852.7 1633.5,852.8 1636.8,853.7 1640.2,857.3 1643.6,857.4 1647.0,857.3 1651.0,851.0 1654.7,847.3 1658.0,852.0 1660.3,854.0 1664.8,855.2 1669.3,857.3 1672.7,857.6 1676.0,860.7 1679.3,861.8 1682.7,861.4 1686.1,863.8 1689.4,865.1 1692.9,863.7 1696.5,863.7 1700.0,865.0 1703.3,868.2 1706.7,871.8 1710.0,861.8 1714.5,871.8 1716.8,856.2 1720.0,865.1 1723.0,866.4 1726.0,862.4 1729.0,864.0 1732.0,863.6 1735.0,866.0 1737.6,862.9 1740.2,858.4 1744.7,868.5 1747.5,870.6 1750.3,868.4 1753.1,867.1 1755.9,867.4 1758.7,870.4 1761.5,866.1 1764.2,870.9 1767.0,869.6 1769.8,868.5 1772.6,867.8 1775.4,867.6 1778.2,869.6 1781.0,869.2 1783.8,872.3 1786.6,869.6 1789.4,871.8 1792.2,872.8 1795.0,873.7 1797.8,872.9 1800.6,874.1 1803.7,872.9 1806.7,871.3 1810.1,868.6 1813.4,870.5 1816.7,869.5 1820.0,873.0 1822.7,872.0 1825.4,874.9 1828.1,874.1 1830.8,874.0 1833.5,875.5 1836.9,876.5 1840.2,876.4 1843.6,877.2 1846.9,877.8 1850.3,880.5 1855.3,876.3 1858.1,877.8 1860.9,877.3 1863.7,876.3 1867.1,877.1 1870.4,880.5 1873.7,881.2 1877.1,881.2 1880.4,881.3 1883.3,883.5 1886.2,882.9 1889.2,880.9 1892.1,882.2 1894.9,883.9 1897.7,878.5 1900.5,879.7 1903.3,880.1 1906.1,882.7 1908.9,882.2 1911.8,881.0 1914.8,883.4 1917.7,881.7 1920.6,884.7 1923.9,882.6 1927.3,878.8 1930.7,881.9 1934.0,882.2 1937.3,883.7 1940.7,886.4 1944.0,885.5 1949.1,879.7 1954.1,880.5" stroke="#ee3d40" stroke-width="5.4"/>
<polyline points="1518.4,642.0 1518.8,700.0 1519.5,758.0 1521.5,792.0 1525.0,815.0 1531.8,836.0 1540.8,853.9 1549.7,869.5 1556.5,884.0 1561.0,899.0 1563.0,904.0 1564.5,896.0 1566.0,915.0 1567.6,935.0 1569.5,915.0 1572.0,900.0 1578.7,865.0 1583.2,840.4 1585.6,826.5 1588.1,777.0 1589.6,798.5 1591.2,832.0 1592.3,866.5 1594.0,843.2 1595.7,815.3 1599.0,837.6 1603.5,856.6 1609.1,871.1 1614.7,884.6 1619.0,894.2 1623.0,920.0 1625.8,949.0 1628.3,934.0 1631.3,900.9 1635.8,876.3 1642.5,860.7 1648.0,833.9 1653.4,795.0 1657.0,825.0 1661.5,860.7 1665.9,885.3 1668.8,915.0 1672.6,878.5 1679.3,854.0 1683.8,838.3 1687.2,813.7 1690.5,803.5 1693.9,824.9 1696.5,866.0 1699.4,833.9 1703.3,791.5 1707.3,807.0 1711.7,829.4 1715.6,845.0 1722.3,865.1 1725.0,881.0 1728.0,847.3 1731.3,823.5 1735.8,840.6 1744.7,851.7 1755.9,857.3 1767.0,862.9 1778.2,867.4 1789.4,871.8 1800.6,876.3 1806.7,880.5 1811.7,874.6 1818.4,882.2 1824.3,891.0 1827.6,878.0 1833.5,888.9 1840.2,900.6 1846.9,914.0 1851.9,922.4 1855.3,910.7 1859.5,924.5 1862.8,897.3 1865.3,877.2 1867.8,866.0 1870.4,882.2 1873.7,868.8 1878.7,850.4 1883.8,831.0 1887.1,837.0 1891.3,853.7 1894.6,874.5 1898.8,873.0 1902.2,837.5 1905.5,837.5 1908.9,853.7 1913.9,850.4 1918.1,832.5 1922.3,845.3 1927.3,852.0 1934.0,855.4 1940.7,858.7 1947.4,860.4 1954.1,863.5" stroke="#427be9" stroke-width="6.2"/>
<polyline points="1519.2,620.0 1519.8,650.0 1520.6,680.0 1521.6,710.0 1522.8,740.0 1524.2,768.0 1525.6,790.0 1526.8,794.8 1527.3,796.4 1527.8,797.9 1528.3,799.4 1528.8,800.9 1529.4,802.4 1530.1,803.9 1530.7,805.5 1531.4,807.0 1532.2,808.5 1533.0,810.0 1533.8,811.5 1534.7,813.0 1535.6,814.5 1536.6,816.1 1537.7,817.6 1538.8,819.1 1540.0,820.6 1541.3,822.1 1542.6,823.6 1544.0,825.2 1545.5,826.7 1547.1,828.2 1548.8,829.7 1550.6,831.2 1552.5,832.7 1554.5,834.3 1556.6,835.8 1558.9,837.3 1561.3,838.8 1563.8,840.3 1566.5,841.8 1569.3,843.4 1572.4,844.9 1575.6,846.4 1579.0,847.9 1582.5,849.4 1586.4,850.9 1590.4,852.5 1594.7,854.0 1599.2,855.5 1604.0,857.0 1609.1,858.5 1610.9,859.0 1612.8,859.5 1614.7,860.1 1616.6,860.6 1618.5,861.1 1620.5,861.6 1622.5,862.1 1624.6,862.6 1626.7,863.2 1628.9,863.7 1631.1,864.2 1633.3,864.7 1635.6,865.2 1637.9,865.7 1640.3,866.2 1642.7,866.8 1645.2,867.3 1647.7,867.8 1650.3,868.3 1653.0,868.8 1655.6,869.3 1658.4,869.9 1661.1,870.4 1664.0,870.9 1666.9,871.4 1669.9,871.9 1672.9,872.4 1675.9,872.9 1679.1,873.5 1682.3,874.0 1685.6,874.5 1688.9,875.0 1692.3,875.5 1695.7,876.0 1699.3,876.6 1702.9,877.1 1706.6,877.6 1710.3,878.1 1714.1,878.6 1718.0,879.1 1722.0,879.6 1726.1,880.2 1730.2,880.7 1734.5,881.2 1738.8,881.7 1743.2,882.2 1747.6,882.7 1752.2,883.3 1756.9,883.8 1761.6,884.3 1766.5,884.8 1771.4,885.3 1776.5,885.8 1781.6,886.3 1786.9,886.9 1792.2,887.4 1797.7,887.9 1803.3,888.4 1809.0,888.9 1814.8,889.4 1820.7,890.0 1826.7,890.5 1832.9,891.0 1839.1,891.5 1845.6,892.0 1852.1,892.5 1858.7,893.0 1865.5,893.6 1872.5,894.1 1879.5,894.6 1886.8,895.1 1894.1,895.6 1901.6,896.1 1909.3,896.6 1917.1,897.2 1925.0,897.7 1933.1,898.2 1941.4,898.7 1949.9,899.2 1958.5,899.7 1967.3,900.3 1976.3,900.8 1985.4,901.3 1994.7,901.8 1996.3,901.9" stroke="#58bc74" stroke-width="5.6"/>
<polyline points="1518.9,640.0 1518.8,700.0 1519.5,758.0 1521.5,792.0 1525.0,815.0 1531.8,836.0 1540.8,853.9 1549.7,869.5 1556.5,884.0 1561.0,899.0 1563.3,912.0 1565.2,930.0" stroke="#000" stroke-width="5" stroke-dasharray="0 10.3"/>
<polyline points="1567.6,932.0 1569.0,916.0 1570.6,905.0 1578.7,865.0 1583.2,840.4 1584.0,827.0 1585.6,806.0 1586.2,790.0 1588.4,809.7 1589.6,830.9 1590.7,841.0 1592.3,863.0 1595.1,853.0 1595.7,832.0 1596.8,812.0 1597.0,792.0 1600.2,832.0 1603.0,851.6 1606.3,861.1 1609.1,871.1 1614.7,884.6 1619.0,894.2 1623.0,920.0 1625.8,954.0 1628.3,934.0 1631.3,900.9 1635.8,876.3 1642.5,860.7 1648.0,833.9 1653.4,795.0 1657.0,825.0 1661.5,860.7 1665.9,885.3 1668.8,915.0 1672.6,878.5 1679.3,854.0 1683.8,838.3 1687.2,813.7 1690.5,803.5 1693.9,824.9 1696.5,866.0 1699.4,833.9 1703.3,791.5 1707.3,807.0 1711.7,829.4 1715.6,845.0 1718.0,857.0 1720.6,871.0 1722.0,846.0 1723.5,826.0 1727.0,830.0 1731.0,836.0 1735.8,843.0 1742.0,849.0 1744.7,851.7 1755.9,857.3 1767.0,862.9 1778.2,867.4 1789.4,871.8 1800.6,876.3 1806.7,880.5 1811.7,874.6 1818.4,882.2 1824.3,891.0 1827.6,878.0 1833.5,888.9 1840.2,900.6 1846.9,914.0 1850.3,926.0 1855.3,916.0 1859.5,912.0 1862.8,897.3 1865.3,877.2 1867.8,866.0 1870.4,882.2 1873.7,868.8 1878.7,850.4 1883.8,836.0 1887.1,837.0 1891.3,853.7 1894.6,874.5 1898.8,873.0 1902.2,846.0 1905.5,842.0 1908.9,853.7 1913.9,850.4 1918.1,845.0 1922.3,845.3 1927.3,852.0 1934.0,855.4 1940.7,858.7 1947.4,860.4 1954.1,863.5" stroke="#000" stroke-width="5" stroke-dasharray="0 10.3"/>
<circle cx="1566.6" cy="938" r="2.5" fill="#000" stroke="none"/>
<circle cx="1566.6" cy="948.5" r="2.5" fill="#000" stroke="none"/>
<circle cx="1566.6" cy="958.8" r="2.5" fill="#000" stroke="none"/>
<circle cx="1566.6" cy="969" r="2.5" fill="#000" stroke="none"/>
<circle cx="1566.6" cy="979.2" r="2.5" fill="#000" stroke="none"/>
</g>
<path d="M1519 575.4L1519 583.4M1519 994.8L1519 986.8M1562.4 575.4L1562.4 579.6M1562.4 994.8L1562.4 990.6M1605.8 575.4L1605.8 583.4M1605.8 994.8L1605.8 986.8M1649.2 575.4L1649.2 579.6M1649.2 994.8L1649.2 990.6M1692.6 575.4L1692.6 583.4M1692.6 994.8L1692.6 986.8M1736 575.4L1736 579.6M1736 994.8L1736 990.6M1779.4 575.4L1779.4 583.4M1779.4 994.8L1779.4 986.8M1822.8 575.4L1822.8 579.6M1822.8 994.8L1822.8 990.6M1866.2 575.4L1866.2 583.4M1866.2 994.8L1866.2 986.8M1909.6 575.4L1909.6 579.6M1909.6 994.8L1909.6 990.6M1953 575.4L1953 583.4M1953 994.8L1953 986.8M1475.6 976.76L1479.8 976.76M1996.3 976.76L1992.1 976.76M1475.6 966.21L1479.8 966.21M1996.3 966.21L1992.1 966.21M1475.6 958.73L1479.8 958.73M1996.3 958.73L1992.1 958.73M1475.6 952.92L1479.8 952.92M1996.3 952.92L1992.1 952.92M1475.6 948.18L1479.8 948.18M1996.3 948.18L1992.1 948.18M1475.6 944.17L1479.8 944.17M1996.3 944.17L1992.1 944.17M1475.6 940.69L1479.8 940.69M1996.3 940.69L1992.1 940.69M1475.6 937.63L1479.8 937.63M1996.3 937.63L1992.1 937.63M1475.6 934.89L1483.6 934.89M1996.3 934.89L1988.3 934.89M1475.6 916.85L1479.8 916.85M1996.3 916.85L1992.1 916.85M1475.6 906.3L1479.8 906.3M1996.3 906.3L1992.1 906.3M1475.6 898.81L1479.8 898.81M1996.3 898.81L1992.1 898.81M1475.6 893.01L1479.8 893.01M1996.3 893.01L1992.1 893.01M1475.6 888.26L1479.8 888.26M1996.3 888.26L1992.1 888.26M1475.6 884.25L1479.8 884.25M1996.3 884.25L1992.1 884.25M1475.6 880.78L1479.8 880.78M1996.3 880.78L1992.1 880.78M1475.6 877.71L1479.8 877.71M1996.3 877.71L1992.1 877.71M1475.6 874.97L1483.6 874.97M1996.3 874.97L1988.3 874.97M1475.6 856.94L1479.8 856.94M1996.3 856.94L1992.1 856.94M1475.6 846.39L1479.8 846.39M1996.3 846.39L1992.1 846.39M1475.6 838.9L1479.8 838.9M1996.3 838.9L1992.1 838.9M1475.6 833.09L1479.8 833.09M1996.3 833.09L1992.1 833.09M1475.6 828.35L1479.8 828.35M1996.3 828.35L1992.1 828.35M1475.6 824.34L1479.8 824.34M1996.3 824.34L1992.1 824.34M1475.6 820.86L1479.8 820.86M1996.3 820.86L1992.1 820.86M1475.6 817.8L1479.8 817.8M1996.3 817.8L1992.1 817.8M1475.6 815.06L1483.6 815.06M1996.3 815.06L1988.3 815.06M1475.6 797.02L1479.8 797.02M1996.3 797.02L1992.1 797.02M1475.6 786.47L1479.8 786.47M1996.3 786.47L1992.1 786.47M1475.6 778.99L1479.8 778.99M1996.3 778.99L1992.1 778.99M1475.6 773.18L1479.8 773.18M1996.3 773.18L1992.1 773.18M1475.6 768.43L1479.8 768.43M1996.3 768.43L1992.1 768.43M1475.6 764.42L1479.8 764.42M1996.3 764.42L1992.1 764.42M1475.6 760.95L1479.8 760.95M1996.3 760.95L1992.1 760.95M1475.6 757.88L1479.8 757.88M1996.3 757.88L1992.1 757.88M1475.6 755.14L1483.6 755.14M1996.3 755.14L1988.3 755.14M1475.6 737.11L1479.8 737.11M1996.3 737.11L1992.1 737.11M1475.6 726.56L1479.8 726.56M1996.3 726.56L1992.1 726.56M1475.6 719.07L1479.8 719.07M1996.3 719.07L1992.1 719.07M1475.6 713.26L1479.8 713.26M1996.3 713.26L1992.1 713.26M1475.6 708.52L1479.8 708.52M1996.3 708.52L1992.1 708.52M1475.6 704.51L1479.8 704.51M1996.3 704.51L1992.1 704.51M1475.6 701.03L1479.8 701.03M1996.3 701.03L1992.1 701.03M1475.6 697.97L1479.8 697.97M1996.3 697.97L1992.1 697.97M1475.6 695.23L1483.6 695.23M1996.3 695.23L1988.3 695.23M1475.6 677.19L1479.8 677.19M1996.3 677.19L1992.1 677.19M1475.6 666.64L1479.8 666.64M1996.3 666.64L1992.1 666.64M1475.6 659.16L1479.8 659.16M1996.3 659.16L1992.1 659.16M1475.6 653.35L1479.8 653.35M1996.3 653.35L1992.1 653.35M1475.6 648.61L1479.8 648.61M1996.3 648.61L1992.1 648.61M1475.6 644.6L1479.8 644.6M1996.3 644.6L1992.1 644.6M1475.6 641.12L1479.8 641.12M1996.3 641.12L1992.1 641.12M1475.6 638.06L1479.8 638.06M1996.3 638.06L1992.1 638.06M1475.6 635.31L1483.6 635.31M1996.3 635.31L1988.3 635.31M1475.6 617.28L1479.8 617.28M1996.3 617.28L1992.1 617.28M1475.6 606.73L1479.8 606.73M1996.3 606.73L1992.1 606.73M1475.6 599.24L1479.8 599.24M1996.3 599.24L1992.1 599.24M1475.6 593.44L1479.8 593.44M1996.3 593.44L1992.1 593.44M1475.6 588.69L1479.8 588.69M1996.3 588.69L1992.1 588.69M1475.6 584.68L1479.8 584.68M1996.3 584.68L1992.1 584.68M1475.6 581.21L1479.8 581.21M1996.3 581.21L1992.1 581.21M1475.6 578.14L1479.8 578.14M1996.3 578.14L1992.1 578.14" stroke="#000" stroke-width="1.7" fill="none"/>
<rect x="1475.6" y="575.4" width="520.7" height="419.4" fill="none" stroke="#000" stroke-width="1.75"/>
<text x="1466.3" y="1004.7" font-size="27.5" text-anchor="end">10<tspan font-size="17.5" dy="-11.5">1</tspan></text>
<text x="1466.3" y="944.79" font-size="27.5" text-anchor="end">10<tspan font-size="17.5" dy="-11.5">2</tspan></text>
<text x="1466.3" y="884.87" font-size="27.5" text-anchor="end">10<tspan font-size="17.5" dy="-11.5">3</tspan></text>
<text x="1466.3" y="824.96" font-size="27.5" text-anchor="end">10<tspan font-size="17.5" dy="-11.5">4</tspan></text>
<text x="1466.3" y="765.04" font-size="27.5" text-anchor="end">10<tspan font-size="17.5" dy="-11.5">5</tspan></text>
<text x="1466.3" y="705.13" font-size="27.5" text-anchor="end">10<tspan font-size="17.5" dy="-11.5">6</tspan></text>
<text x="1466.3" y="645.21" font-size="27.5" text-anchor="end">10<tspan font-size="17.5" dy="-11.5">7</tspan></text>
<text x="1466.3" y="585.3" font-size="27.5" text-anchor="end">10<tspan font-size="17.5" dy="-11.5">8</tspan></text>
<text x="1518.7" y="1024.8" font-size="27.5" text-anchor="middle">0.0</text>
<text x="1605.5" y="1024.8" font-size="27.5" text-anchor="middle">0.5</text>
<text x="1692.3" y="1024.8" font-size="27.5" text-anchor="middle">1.0</text>
<text x="1779.1" y="1024.8" font-size="27.5" text-anchor="middle">1.5</text>
<text x="1865.9" y="1024.8" font-size="27.5" text-anchor="middle">2.0</text>
<text x="1952.7" y="1024.8" font-size="27.5" text-anchor="middle">2.5</text>
<text x="1735.6" y="1060.1" font-size="28" text-anchor="middle">Frequency (MHz)</text>
<text transform="translate(1398.3,787.5) rotate(-90)" text-anchor="middle" font-size="28.8">Impedance (&#937;)</text>
<text x="1366.2" y="524.6" font-size="40.5" font-weight="bold">(d)</text>
<line x1="1534.5" y1="595.3" x2="1572.5" y2="595.3" stroke="#4f4f4f" stroke-width="5.8" stroke-linecap="round"/>
<text x="1579" y="602.2" font-size="22.9">2 kV/cm, 10 Hz, 10000 c (Not depoled)</text>
<line x1="1534.5" y1="622.9" x2="1572.5" y2="622.9" stroke="#ee3d40" stroke-width="5.8" stroke-linecap="round"/>
<text x="1579" y="629.8" font-size="22.9">4 kV/cm, 10 Hz, 10 c (Depoled)</text>
<line x1="1534.5" y1="650.5" x2="1572.5" y2="650.5" stroke="#427be9" stroke-width="5.8" stroke-linecap="round"/>
<text x="1579" y="657.4" font-size="22.9">8 kV/cm, 10 Hz, 10 c (Repoled)</text>
<line x1="1534.5" y1="678.5" x2="1572.5" y2="678.5" stroke="#58bc74" stroke-width="5.8" stroke-linecap="round"/>
<text x="1579" y="685.4" font-size="22.9">Unpoled</text>
<circle cx="1533.3" cy="706.3" r="2.5" fill="#000"/>
<circle cx="1543.4" cy="706.3" r="2.5" fill="#000"/>
<circle cx="1553.6" cy="706.3" r="2.5" fill="#000"/>
<circle cx="1563.8" cy="706.3" r="2.5" fill="#000"/>
<text x="1579" y="713.2" font-size="22.9">ACP</text>
</svg></body></html>
